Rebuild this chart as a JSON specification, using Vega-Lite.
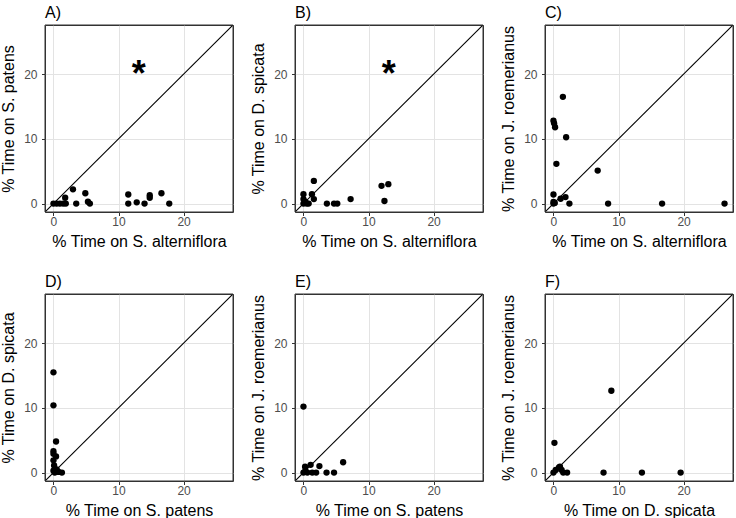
{
  "$schema": "https://vega.github.io/schema/vega-lite/v6.json",
  "background": "white",
  "padding": {"left": 0, "top": 4, "right": 0, "bottom": 0},
  "datasets": {
    "A": [
      {"x": 0, "y": 0}, {"x": 0.5, "y": 0}, {"x": 1.0, "y": 0}, {"x": 1.5, "y": 0}, {"x": 1.9, "y": 0},
      {"x": 1.8, "y": 0.9}, {"x": 3.0, "y": 2.2}, {"x": 3.5, "y": 0}, {"x": 4.9, "y": 1.6}, {"x": 5.3, "y": 0.3},
      {"x": 5.6, "y": 0}, {"x": 11.5, "y": 1.4}, {"x": 11.5, "y": 0}, {"x": 12.8, "y": 0.2}, {"x": 14.0, "y": 0},
      {"x": 14.8, "y": 1.3}, {"x": 14.8, "y": 0.9}, {"x": 16.6, "y": 1.6}, {"x": 17.8, "y": 0}
    ],
    "B": [
      {"x": 0, "y": 1.45}, {"x": 0, "y": 0.7}, {"x": 0, "y": 0}, {"x": 0.3, "y": 0.3}, {"x": 0.5, "y": 0},
      {"x": 0.8, "y": 0}, {"x": 1.3, "y": 1.45}, {"x": 1.6, "y": 3.5}, {"x": 1.6, "y": 0.7}, {"x": 3.6, "y": 0},
      {"x": 4.7, "y": 0}, {"x": 5.2, "y": 0}, {"x": 7.25, "y": 0.7}, {"x": 12.0, "y": 2.75}, {"x": 13.05, "y": 3.0},
      {"x": 12.45, "y": 0.4}
    ],
    "C": [
      {"x": 1.45, "y": 16.5}, {"x": 0, "y": 12.8}, {"x": 0.1, "y": 12.4}, {"x": 0.25, "y": 11.8}, {"x": 1.95, "y": 10.25},
      {"x": 0.45, "y": 6.15}, {"x": 6.8, "y": 5.1}, {"x": 0, "y": 1.4}, {"x": 0, "y": 0.25}, {"x": 0, "y": 0},
      {"x": 0.2, "y": 0.1}, {"x": 1.1, "y": 0.75}, {"x": 1.85, "y": 1.0}, {"x": 2.45, "y": 0}, {"x": 8.4, "y": 0},
      {"x": 16.7, "y": 0}, {"x": 26.3, "y": 0}
    ],
    "D": [
      {"x": 0, "y": 15.5}, {"x": 0, "y": 10.4}, {"x": 0.4, "y": 4.8}, {"x": 0, "y": 3.3}, {"x": 0, "y": 2.9},
      {"x": 0.4, "y": 2.5}, {"x": 0, "y": 1.9}, {"x": 0.1, "y": 1.1}, {"x": 0, "y": 0.3}, {"x": 0.2, "y": 0},
      {"x": 0.5, "y": 0.5}, {"x": 1.3, "y": 0}, {"x": 0.8, "y": 0.1}
    ],
    "E": [
      {"x": 0, "y": 10.2}, {"x": 0, "y": 0}, {"x": 0.25, "y": 0.9}, {"x": 1.1, "y": 1.2}, {"x": 1.35, "y": 0},
      {"x": 1.95, "y": 0}, {"x": 2.45, "y": 1.0}, {"x": 3.55, "y": 0}, {"x": 4.7, "y": 0}, {"x": 6.1, "y": 1.6},
      {"x": 0.6, "y": 0}, {"x": 0.3, "y": 0.3}
    ],
    "F": [
      {"x": 8.9, "y": 12.65}, {"x": 0.15, "y": 4.6}, {"x": 0, "y": 0}, {"x": 0.35, "y": 0.4}, {"x": 0.85, "y": 0.8},
      {"x": 1.25, "y": 0.4}, {"x": 1.5, "y": 0}, {"x": 2.1, "y": 0}, {"x": 7.7, "y": 0}, {"x": 13.6, "y": 0},
      {"x": 19.55, "y": 0}, {"x": 1.0, "y": 0.9}
    ]
  },
  "columns": 3,
  "spacing": {"column": 16, "row": 23},
  "concat": [
    {
      "title": "A)", "width": 188, "height": 187,
      "layer": [
        {"data": {"name": "A"}, "mark": {"type": "circle", "size": 40, "color": "black", "opacity": 1},
         "encoding": {
           "x": {"field": "x", "type": "quantitative", "scale": {"domain": [-1.3, 27.6], "nice": false, "zero": false},
                 "axis": {"title": "% Time on S. alterniflora", "values": [0, 5, 10, 15, 20, 25], "labelExpr": "datum.value % 10 === 0 ? datum.label : ''",
                          "tickOpacity": {"condition": {"test": "datum.value % 10 === 0", "value": 1}, "value": 0},
                          "gridWidth": {"condition": {"test": "datum.value % 10 === 0", "value": 1}, "value": 0.5}}},
           "y": {"field": "y", "type": "quantitative", "scale": {"domain": [-1.3, 27.6], "nice": false, "zero": false},
                 "axis": {"title": "% Time on S. patens", "values": [0, 5, 10, 15, 20, 25], "labelExpr": "datum.value % 10 === 0 ? datum.label : ''",
                          "tickOpacity": {"condition": {"test": "datum.value % 10 === 0", "value": 1}, "value": 0},
                          "gridWidth": {"condition": {"test": "datum.value % 10 === 0", "value": 1}, "value": 0.5}}}
         }},
        {"data": {"values": [{}]}, "mark": {"type": "rule", "color": "black", "strokeWidth": 1.1, "clip": true},
         "encoding": {"x": {"datum": -1.3, "type": "quantitative"}, "y": {"datum": -1.3, "type": "quantitative"},
                      "x2": {"datum": 27.6}, "y2": {"datum": 27.6}}},
        {"data": {"values": [{}]}, "mark": {"type": "text", "text": "*", "fontSize": 36, "fontWeight": "bold", "font": "Liberation Sans", "baseline": "alphabetic", "dy": 20, "color": "black"},
         "encoding": {"x": {"datum": 13.1, "type": "quantitative"}, "y": {"datum": 21.2, "type": "quantitative"}}},
        {"data": {"values": [{}]}, "mark": {"type": "rect", "fill": "transparent", "stroke": "#333333", "strokeWidth": 1},
         "encoding": {"x": {"datum": -1.3, "type": "quantitative"}, "x2": {"datum": 27.6},
                      "y": {"datum": -1.3, "type": "quantitative"}, "y2": {"datum": 27.6}}}
      ]
    },
    {
      "title": "B)", "width": 188, "height": 187,
      "layer": [
        {"data": {"name": "B"}, "mark": {"type": "circle", "size": 40, "color": "black", "opacity": 1},
         "encoding": {
           "x": {"field": "x", "type": "quantitative", "scale": {"domain": [-1.3, 27.6], "nice": false, "zero": false},
                 "axis": {"title": "% Time on S. alterniflora", "values": [0, 5, 10, 15, 20, 25], "labelExpr": "datum.value % 10 === 0 ? datum.label : ''",
                          "tickOpacity": {"condition": {"test": "datum.value % 10 === 0", "value": 1}, "value": 0},
                          "gridWidth": {"condition": {"test": "datum.value % 10 === 0", "value": 1}, "value": 0.5}}},
           "y": {"field": "y", "type": "quantitative", "scale": {"domain": [-1.3, 27.6], "nice": false, "zero": false},
                 "axis": {"title": "% Time on D. spicata", "values": [0, 5, 10, 15, 20, 25], "labelExpr": "datum.value % 10 === 0 ? datum.label : ''",
                          "tickOpacity": {"condition": {"test": "datum.value % 10 === 0", "value": 1}, "value": 0},
                          "gridWidth": {"condition": {"test": "datum.value % 10 === 0", "value": 1}, "value": 0.5}}}
         }},
        {"data": {"values": [{}]}, "mark": {"type": "rule", "color": "black", "strokeWidth": 1.1, "clip": true},
         "encoding": {"x": {"datum": -1.3, "type": "quantitative"}, "y": {"datum": -1.3, "type": "quantitative"},
                      "x2": {"datum": 27.6}, "y2": {"datum": 27.6}}},
        {"data": {"values": [{}]}, "mark": {"type": "text", "text": "*", "fontSize": 36, "fontWeight": "bold", "font": "Liberation Sans", "baseline": "alphabetic", "dy": 20, "color": "black"},
         "encoding": {"x": {"datum": 13.1, "type": "quantitative"}, "y": {"datum": 21.2, "type": "quantitative"}}},
        {"data": {"values": [{}]}, "mark": {"type": "rect", "fill": "transparent", "stroke": "#333333", "strokeWidth": 1},
         "encoding": {"x": {"datum": -1.3, "type": "quantitative"}, "x2": {"datum": 27.6},
                      "y": {"datum": -1.3, "type": "quantitative"}, "y2": {"datum": 27.6}}}
      ]
    },
    {
      "title": "C)", "width": 188, "height": 187,
      "layer": [
        {"data": {"name": "C"}, "mark": {"type": "circle", "size": 40, "color": "black", "opacity": 1},
         "encoding": {
           "x": {"field": "x", "type": "quantitative", "scale": {"domain": [-1.3, 27.6], "nice": false, "zero": false},
                 "axis": {"title": "% Time on S. alterniflora", "values": [0, 5, 10, 15, 20, 25], "labelExpr": "datum.value % 10 === 0 ? datum.label : ''",
                          "tickOpacity": {"condition": {"test": "datum.value % 10 === 0", "value": 1}, "value": 0},
                          "gridWidth": {"condition": {"test": "datum.value % 10 === 0", "value": 1}, "value": 0.5}}},
           "y": {"field": "y", "type": "quantitative", "scale": {"domain": [-1.3, 27.6], "nice": false, "zero": false},
                 "axis": {"title": "% Time on J. roemerianus", "values": [0, 5, 10, 15, 20, 25], "labelExpr": "datum.value % 10 === 0 ? datum.label : ''",
                          "tickOpacity": {"condition": {"test": "datum.value % 10 === 0", "value": 1}, "value": 0},
                          "gridWidth": {"condition": {"test": "datum.value % 10 === 0", "value": 1}, "value": 0.5}}}
         }},
        {"data": {"values": [{}]}, "mark": {"type": "rule", "color": "black", "strokeWidth": 1.1, "clip": true},
         "encoding": {"x": {"datum": -1.3, "type": "quantitative"}, "y": {"datum": -1.3, "type": "quantitative"},
                      "x2": {"datum": 27.6}, "y2": {"datum": 27.6}}},
        {"data": {"values": [{}]}, "mark": {"type": "rect", "fill": "transparent", "stroke": "#333333", "strokeWidth": 1},
         "encoding": {"x": {"datum": -1.3, "type": "quantitative"}, "x2": {"datum": 27.6},
                      "y": {"datum": -1.3, "type": "quantitative"}, "y2": {"datum": 27.6}}}
      ]
    },
    {
      "title": "D)", "width": 188, "height": 187,
      "layer": [
        {"data": {"name": "D"}, "mark": {"type": "circle", "size": 40, "color": "black", "opacity": 1},
         "encoding": {
           "x": {"field": "x", "type": "quantitative", "scale": {"domain": [-1.3, 27.6], "nice": false, "zero": false},
                 "axis": {"title": "% Time on S. patens", "values": [0, 5, 10, 15, 20, 25], "labelExpr": "datum.value % 10 === 0 ? datum.label : ''",
                          "tickOpacity": {"condition": {"test": "datum.value % 10 === 0", "value": 1}, "value": 0},
                          "gridWidth": {"condition": {"test": "datum.value % 10 === 0", "value": 1}, "value": 0.5}}},
           "y": {"field": "y", "type": "quantitative", "scale": {"domain": [-1.3, 27.6], "nice": false, "zero": false},
                 "axis": {"title": "% Time on D. spicata", "values": [0, 5, 10, 15, 20, 25], "labelExpr": "datum.value % 10 === 0 ? datum.label : ''",
                          "tickOpacity": {"condition": {"test": "datum.value % 10 === 0", "value": 1}, "value": 0},
                          "gridWidth": {"condition": {"test": "datum.value % 10 === 0", "value": 1}, "value": 0.5}}}
         }},
        {"data": {"values": [{}]}, "mark": {"type": "rule", "color": "black", "strokeWidth": 1.1, "clip": true},
         "encoding": {"x": {"datum": -1.3, "type": "quantitative"}, "y": {"datum": -1.3, "type": "quantitative"},
                      "x2": {"datum": 27.6}, "y2": {"datum": 27.6}}},
        {"data": {"values": [{}]}, "mark": {"type": "rect", "fill": "transparent", "stroke": "#333333", "strokeWidth": 1},
         "encoding": {"x": {"datum": -1.3, "type": "quantitative"}, "x2": {"datum": 27.6},
                      "y": {"datum": -1.3, "type": "quantitative"}, "y2": {"datum": 27.6}}}
      ]
    },
    {
      "title": "E)", "width": 188, "height": 187,
      "layer": [
        {"data": {"name": "E"}, "mark": {"type": "circle", "size": 40, "color": "black", "opacity": 1},
         "encoding": {
           "x": {"field": "x", "type": "quantitative", "scale": {"domain": [-1.3, 27.6], "nice": false, "zero": false},
                 "axis": {"title": "% Time on S. patens", "values": [0, 5, 10, 15, 20, 25], "labelExpr": "datum.value % 10 === 0 ? datum.label : ''",
                          "tickOpacity": {"condition": {"test": "datum.value % 10 === 0", "value": 1}, "value": 0},
                          "gridWidth": {"condition": {"test": "datum.value % 10 === 0", "value": 1}, "value": 0.5}}},
           "y": {"field": "y", "type": "quantitative", "scale": {"domain": [-1.3, 27.6], "nice": false, "zero": false},
                 "axis": {"title": "% Time on J. roemerianus", "values": [0, 5, 10, 15, 20, 25], "labelExpr": "datum.value % 10 === 0 ? datum.label : ''",
                          "tickOpacity": {"condition": {"test": "datum.value % 10 === 0", "value": 1}, "value": 0},
                          "gridWidth": {"condition": {"test": "datum.value % 10 === 0", "value": 1}, "value": 0.5}}}
         }},
        {"data": {"values": [{}]}, "mark": {"type": "rule", "color": "black", "strokeWidth": 1.1, "clip": true},
         "encoding": {"x": {"datum": -1.3, "type": "quantitative"}, "y": {"datum": -1.3, "type": "quantitative"},
                      "x2": {"datum": 27.6}, "y2": {"datum": 27.6}}},
        {"data": {"values": [{}]}, "mark": {"type": "rect", "fill": "transparent", "stroke": "#333333", "strokeWidth": 1},
         "encoding": {"x": {"datum": -1.3, "type": "quantitative"}, "x2": {"datum": 27.6},
                      "y": {"datum": -1.3, "type": "quantitative"}, "y2": {"datum": 27.6}}}
      ]
    },
    {
      "title": "F)", "width": 188, "height": 187,
      "layer": [
        {"data": {"name": "F"}, "mark": {"type": "circle", "size": 40, "color": "black", "opacity": 1},
         "encoding": {
           "x": {"field": "x", "type": "quantitative", "scale": {"domain": [-1.3, 27.6], "nice": false, "zero": false},
                 "axis": {"title": "% Time on D. spicata", "values": [0, 5, 10, 15, 20, 25], "labelExpr": "datum.value % 10 === 0 ? datum.label : ''",
                          "tickOpacity": {"condition": {"test": "datum.value % 10 === 0", "value": 1}, "value": 0},
                          "gridWidth": {"condition": {"test": "datum.value % 10 === 0", "value": 1}, "value": 0.5}}},
           "y": {"field": "y", "type": "quantitative", "scale": {"domain": [-1.3, 27.6], "nice": false, "zero": false},
                 "axis": {"title": "% Time on J. roemerianus", "values": [0, 5, 10, 15, 20, 25], "labelExpr": "datum.value % 10 === 0 ? datum.label : ''",
                          "tickOpacity": {"condition": {"test": "datum.value % 10 === 0", "value": 1}, "value": 0},
                          "gridWidth": {"condition": {"test": "datum.value % 10 === 0", "value": 1}, "value": 0.5}}}
         }},
        {"data": {"values": [{}]}, "mark": {"type": "rule", "color": "black", "strokeWidth": 1.1, "clip": true},
         "encoding": {"x": {"datum": -1.3, "type": "quantitative"}, "y": {"datum": -1.3, "type": "quantitative"},
                      "x2": {"datum": 27.6}, "y2": {"datum": 27.6}}},
        {"data": {"values": [{}]}, "mark": {"type": "rect", "fill": "transparent", "stroke": "#333333", "strokeWidth": 1},
         "encoding": {"x": {"datum": -1.3, "type": "quantitative"}, "x2": {"datum": 27.6},
                      "y": {"datum": -1.3, "type": "quantitative"}, "y2": {"datum": 27.6}}}
      ]
    }
  ],
  "config": {
    "font": "Liberation Sans",
    "view": {"stroke": "#333333", "strokeWidth": 1},
    "title": {"anchor": "start", "frame": "group", "fontSize": 16, "fontWeight": "normal", "font": "Liberation Sans", "color": "black", "offset": 4},
    "axis": {
      "domain": false,
      "grid": true,
      "gridColor": "#e3e3e3",
      "tickColor": "#333333",
      "tickSize": 3.5,
      "tickWidth": 1,
      "labelFont": "Liberation Sans",
      "labelFontSize": 12,
      "labelColor": "#4d4d4d",
      "titleFont": "Liberation Sans",
      "titleFontSize": 16,
      "titleFontWeight": "normal",
      "titleColor": "black"
    },
    "axisX": {"labelPadding": 1, "titlePadding": 6, "labelFlush": false},
    "axisY": {"labelPadding": 4.5, "titlePadding": 7, "labelFlush": false}
  }
}
